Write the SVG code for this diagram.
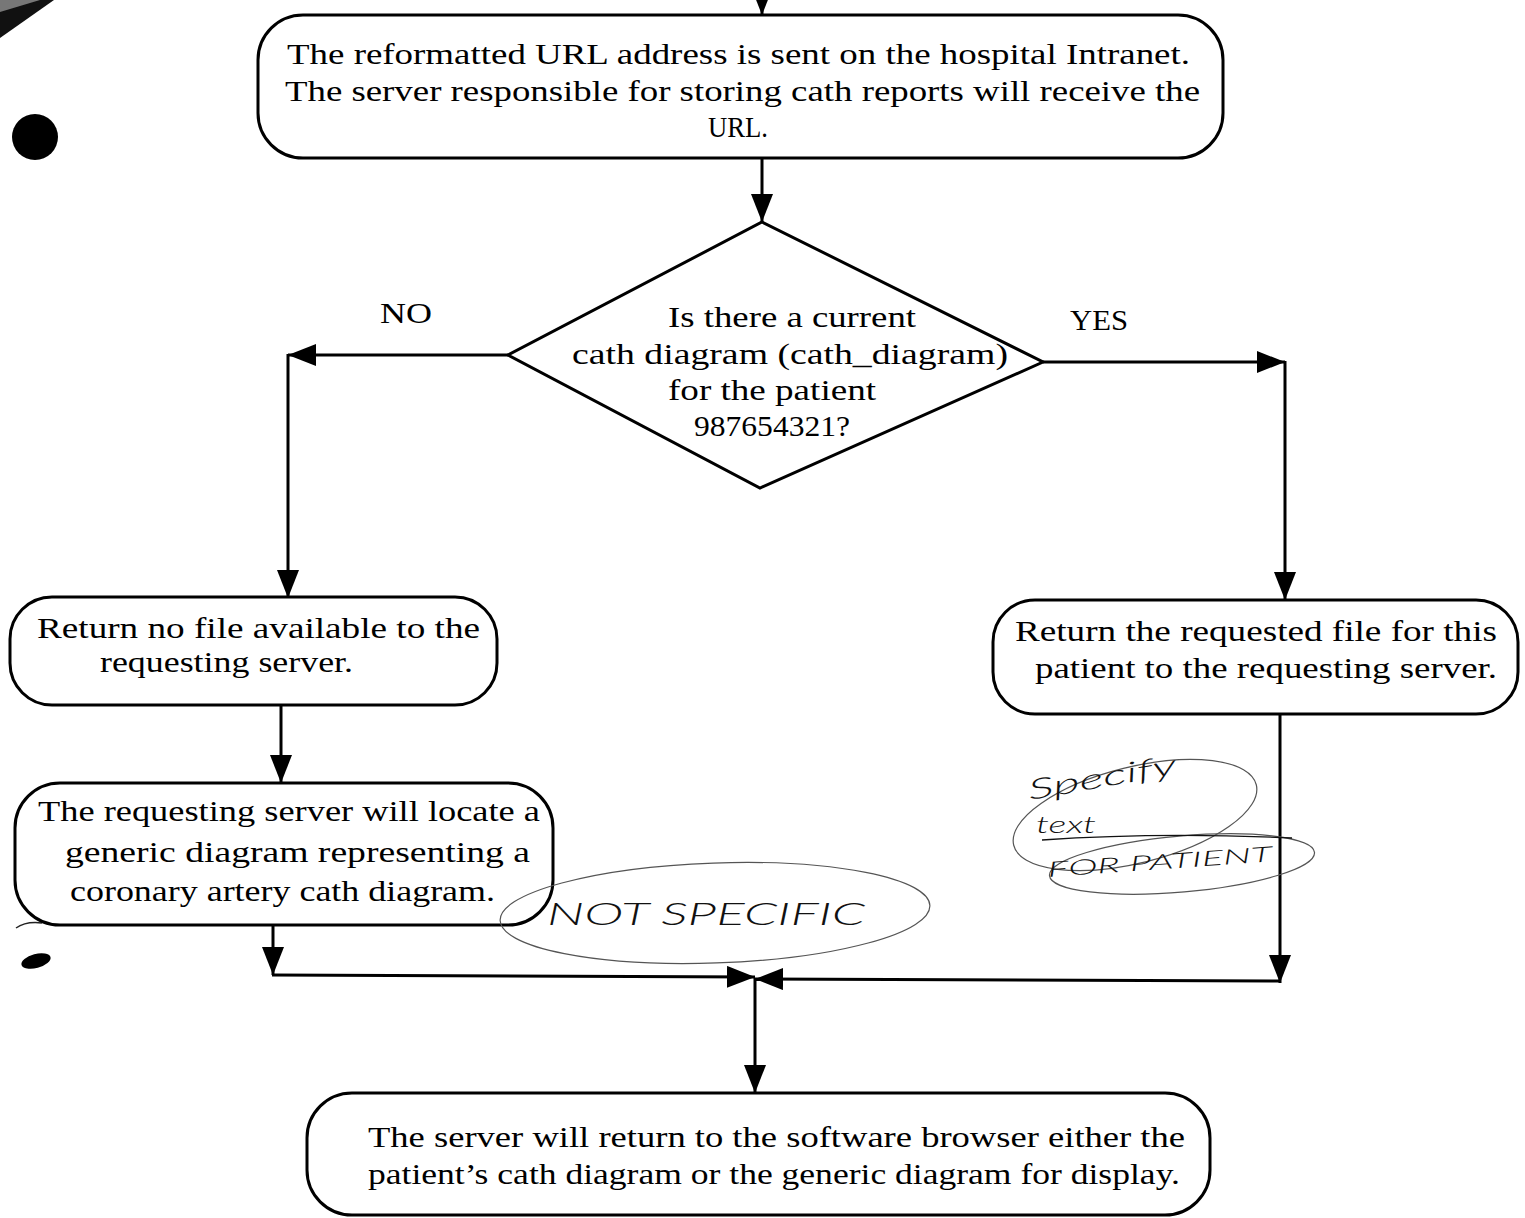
<svg xmlns="http://www.w3.org/2000/svg" width="1525" height="1218" viewBox="0 0 1525 1218">
  <style>
    .box { fill: #fff; stroke: #000; stroke-width: 3; }
    .conn { fill: none; stroke: #000; stroke-width: 3; }
    .t { font-family: "Liberation Serif", "DejaVu Serif", serif; font-size: 30px; fill: #000; }
    .hand { font-family: "DejaVu Sans ExtraLight", "Lato", "Liberation Sans", sans-serif; font-weight: 300; font-style: italic; fill: #111; }
    .loop { fill: none; stroke: #555; stroke-width: 1.2; }
  </style>
  <defs>
    <marker id="arrow" markerUnits="userSpaceOnUse" markerWidth="28" markerHeight="22" refX="28" refY="11" orient="auto">
      <path d="M0,0 L28,11 L0,22 Z" fill="#000"/>
    </marker>
  </defs>
  <rect width="1525" height="1218" fill="#fff"/>

  <!-- marks along the left margin -->
  <g id="margin-marks">
    <polygon points="0,0 54,0 0,38" fill="#111"/>
    <polygon points="0,0 40,0 0,12" fill="#777"/>
    <circle cx="35" cy="137" r="23" fill="#000"/>
    <ellipse cx="36" cy="961" rx="15" ry="7" transform="rotate(-15 36 961)" fill="#000"/>
    <path d="M16,928 Q26,921 42,923" fill="none" stroke="#222" stroke-width="1.5"/>
  </g>

  <!-- connectors -->
  <g id="connectors">
    <path class="conn" d="M762,-20 L762,15" marker-end="url(#arrow)"/>
    <path class="conn" d="M762,158 L762,222" marker-end="url(#arrow)"/>
    <path class="conn" d="M508,355 L288,355" marker-end="url(#arrow)"/>
    <path class="conn" d="M288,354 L288,598" marker-end="url(#arrow)"/>
    <path class="conn" d="M1043,362 L1285,362" marker-end="url(#arrow)"/>
    <path class="conn" d="M1285,361 L1285,600" marker-end="url(#arrow)"/>
    <path class="conn" d="M281,705 L281,783" marker-end="url(#arrow)"/>
    <path class="conn" d="M273,925 L273,975" marker-end="url(#arrow)"/>
    <path class="conn" d="M272,975 L755,977" marker-end="url(#arrow)"/>
    <path class="conn" d="M1280,714 L1280,983" marker-end="url(#arrow)"/>
    <path class="conn" d="M1281,981 L755,979" marker-end="url(#arrow)"/>
    <path class="conn" d="M755,978 L755,1093" marker-end="url(#arrow)"/>
  </g>

  <!-- URL sent on the intranet -->
  <g id="node-send-url">
    <rect class="box" x="258" y="15" width="965" height="143" rx="45"/>
    <text class="t" x="287" y="64" textLength="903" lengthAdjust="spacingAndGlyphs">The reformatted URL address is sent on the hospital Intranet.</text>
    <text class="t" x="285" y="101" textLength="915" lengthAdjust="spacingAndGlyphs">The server responsible for storing cath reports will receive the</text>
    <text class="t" x="708" y="137" textLength="60" lengthAdjust="spacingAndGlyphs">URL.</text>
  </g>

  <!-- decision -->
  <g id="node-decision">
    <polygon class="box" points="762,222 1043,362 760,488 508,355"/>
    <text class="t" x="668" y="327" textLength="248" lengthAdjust="spacingAndGlyphs">Is there a current</text>
    <text class="t" x="572" y="364" textLength="436" lengthAdjust="spacingAndGlyphs">cath diagram (cath_diagram)</text>
    <text class="t" x="668" y="400" textLength="208" lengthAdjust="spacingAndGlyphs">for the patient</text>
    <text class="t" x="694" y="436" textLength="156" lengthAdjust="spacingAndGlyphs">987654321?</text>
  </g>

  <g id="labels">
    <text class="t" x="380" y="323" textLength="52" lengthAdjust="spacingAndGlyphs">NO</text>
    <text class="t" x="1070" y="330" textLength="58" lengthAdjust="spacingAndGlyphs">YES</text>
  </g>

  <!-- NO branch -->
  <g id="node-no-file">
    <rect class="box" x="10" y="597" width="487" height="108" rx="42"/>
    <text class="t" x="37" y="638" textLength="443" lengthAdjust="spacingAndGlyphs">Return no file available to the</text>
    <text class="t" x="100" y="672" textLength="253" lengthAdjust="spacingAndGlyphs">requesting server.</text>
  </g>

  <g id="node-generic">
    <rect class="box" x="15" y="783" width="538" height="142" rx="45"/>
    <text class="t" x="38" y="821" textLength="502" lengthAdjust="spacingAndGlyphs">The requesting server will locate a</text>
    <text class="t" x="65" y="862" textLength="465" lengthAdjust="spacingAndGlyphs">generic diagram representing a</text>
    <text class="t" x="70" y="901" textLength="425" lengthAdjust="spacingAndGlyphs">coronary artery cath diagram.</text>
  </g>

  <!-- YES branch -->
  <g id="node-return-file">
    <rect class="box" x="993" y="600" width="525" height="114" rx="42"/>
    <text class="t" x="1015" y="641" textLength="482" lengthAdjust="spacingAndGlyphs">Return the requested file for this</text>
    <text class="t" x="1035" y="678" textLength="462" lengthAdjust="spacingAndGlyphs">patient to the requesting server.</text>
  </g>

  <!-- merged result -->
  <g id="node-display">
    <rect class="box" x="307" y="1093" width="903" height="122" rx="45"/>
    <text class="t" x="368" y="1147" textLength="817" lengthAdjust="spacingAndGlyphs">The server will return to the software browser either the</text>
    <text class="t" x="368" y="1184" textLength="812" lengthAdjust="spacingAndGlyphs">patient’s cath diagram or the generic diagram for display.</text>
  </g>

  <!-- pen notes -->
  <g id="note-not-specific">
    <ellipse class="loop" cx="715" cy="913" rx="215" ry="50" transform="rotate(-2 715 913)"/>
    <text class="hand" x="547" y="925" font-size="32" textLength="318" lengthAdjust="spacingAndGlyphs">NOT SPECIFIC</text>
  </g>
  <g id="note-specify">
    <ellipse class="loop" cx="1135" cy="815" rx="125" ry="48" transform="rotate(-14 1135 815)"/>
    <ellipse class="loop" cx="1182" cy="864" rx="133" ry="28" transform="rotate(-5 1182 864)"/>
    <text class="hand" x="1030" y="800" font-size="28" transform="rotate(-10 1030 800)" textLength="150" lengthAdjust="spacingAndGlyphs">Specify</text>
    <text class="hand" x="1036" y="833" font-size="24" textLength="60" lengthAdjust="spacingAndGlyphs">text</text>
    <path d="M1042,840 Q1160,832 1292,838" fill="none" stroke="#111" stroke-width="1.3"/>
    <text class="hand" x="1048" y="877" font-size="21" transform="rotate(-4 1048 877)" textLength="225" lengthAdjust="spacingAndGlyphs">FOR PATIENT</text>
  </g>
</svg>
